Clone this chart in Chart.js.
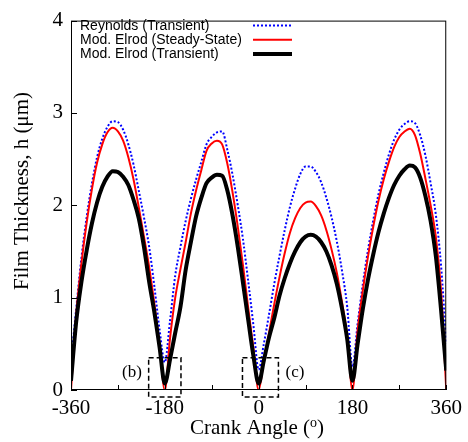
<!DOCTYPE html>
<html>
<head>
<meta charset="utf-8">
<script src="https://cdn.jsdelivr.net/npm/chart.js@4.4.1/dist/chart.umd.min.js"></script>
<style>
  html, body { margin: 0; padding: 0; background: #fff; }
  #chart { display: block; }
</style>
</head>
<body>
<canvas id="chart" width="468" height="442"></canvas>
<script>
// crank angle, degrees
var angles = [-360, -350, -340, -330, -320, -310, -300, -290, -280, -270, -260, -250, -240, -230, -220, -210, -200, -190,
  -180, -170, -160, -150, -140, -130, -120, -110, -100, -90, -80, -70, -60, -50, -40, -30, -20, -10,
  0, 10, 20, 30, 40, 50, 60, 70, 80, 90, 100, 110, 120, 130, 140, 150, 160, 170,
  180, 190, 200, 210, 220, 230, 240, 250, 260, 270, 280, 290, 300, 310, 320, 330, 340, 350, 360];

// film thickness, micrometres
var reynoldsTransient = [0.30, 0.88, 1.43, 1.87, 2.23, 2.52, 2.72, 2.85, 2.91, 2.90, 2.82, 2.66, 2.44, 2.16, 1.87, 1.55, 1.12, 0.65,
  0.30, 0.75, 1.24, 1.55, 1.83, 2.07, 2.28, 2.47, 2.66, 2.74, 2.79, 2.80, 2.60, 2.33, 2.00, 1.63, 1.18, 0.70,
  0.22, 0.50, 0.82, 1.15, 1.45, 1.73, 1.98, 2.18, 2.34, 2.42, 2.42, 2.36, 2.25, 2.08, 1.87, 1.61, 1.29, 0.90,
  0.25, 0.72, 1.15, 1.52, 1.84, 2.12, 2.35, 2.55, 2.71, 2.82, 2.88, 2.91, 2.89, 2.76, 2.54, 2.24, 1.90, 1.35, 0.50];

var elrodSteady = [0, 0.82, 1.37, 1.81, 2.17, 2.46, 2.66, 2.79, 2.84, 2.80, 2.70, 2.52, 2.28, 1.98, 1.66, 1.33, 0.93, 0.48,
  0, 0.56, 1.00, 1.31, 1.60, 1.91, 2.16, 2.38, 2.59, 2.67, 2.70, 2.66, 2.45, 2.14, 1.77, 1.35, 0.89, 0.45,
  0, 0.32, 0.62, 0.93, 1.22, 1.48, 1.70, 1.86, 1.97, 2.03, 2.04, 1.99, 1.89, 1.73, 1.52, 1.27, 0.95, 0.58,
  0, 0.65, 1.08, 1.45, 1.77, 2.05, 2.28, 2.47, 2.63, 2.74, 2.80, 2.83, 2.76, 2.56, 2.29, 2.00, 1.66, 1.08, 0];

var elrodTransient = [0.10, 0.74, 1.17, 1.51, 1.80, 2.03, 2.20, 2.31, 2.37, 2.36, 2.31, 2.22, 2.06, 1.86, 1.55, 1.17, 0.84, 0.46,
  0.07, 0.33, 0.62, 0.90, 1.30, 1.60, 1.88, 2.08, 2.24, 2.30, 2.33, 2.32, 2.16, 1.89, 1.55, 1.16, 0.76, 0.37,
  0.07, 0.32, 0.57, 0.78, 1.02, 1.21, 1.37, 1.50, 1.60, 1.66, 1.68, 1.66, 1.60, 1.50, 1.35, 1.15, 0.88, 0.55,
  0.10, 0.50, 0.88, 1.20, 1.47, 1.71, 1.91, 2.08, 2.22, 2.32, 2.39, 2.43, 2.41, 2.30, 2.10, 1.83, 1.45, 0.87, 0.21];

var seriesNames = ['Reynolds (Transient)', 'Mod. Elrod (Steady-State)', 'Mod. Elrod (Transient)'];
var xLabelled = [-360, -180, 0, 180, 360];

function points(vals) {
  return angles.map(function (a, i) { return { x: a, y: vals[i] }; });
}

var serif = '"Liberation Serif", "Times New Roman", serif';
var sans = '"Liberation Sans", Arial, sans-serif';

// frame, inward ticks, legend, titles and the (b)/(c) boxes
var decor = {
  id: 'decor',
  afterDraw: function (chart) {
    var ctx = chart.ctx, a = chart.chartArea;
    var xs = chart.scales.x, ys = chart.scales.y;
    ctx.save();
    ctx.strokeStyle = '#000';
    ctx.lineWidth = 1;
    ctx.strokeRect(a.left + 0.5, a.top + 0.5, a.right - a.left - 1, a.bottom - a.top - 1);

    ctx.beginPath();
    xs.ticks.forEach(function (t) {
      var px = Math.round(xs.getPixelForValue(t.value)) + 0.5;
      ctx.moveTo(px, a.bottom);
      ctx.lineTo(px, a.bottom - 5);
    });
    ys.ticks.forEach(function (t) {
      var py = Math.round(ys.getPixelForValue(t.value)) + 0.5;
      ctx.moveTo(a.left, py);
      ctx.lineTo(a.left + 6, py);
    });
    ctx.stroke();

    // zoom boxes
    ctx.setLineDash([5, 3]);
    ctx.lineWidth = 1.5;
    [[-211, -149], [-31, 38]].forEach(function (b) {
      var x0 = xs.getPixelForValue(b[0]), x1 = xs.getPixelForValue(b[1]);
      var y0 = ys.getPixelForValue(0.35), y1 = ys.getPixelForValue(-0.075);
      ctx.strokeRect(x0, y0, x1 - x0, y1 - y0);
    });
    ctx.setLineDash([]);
    ctx.fillStyle = '#000';
    ctx.font = '17px ' + serif;
    ctx.textAlign = 'center';
    ctx.textBaseline = 'middle';
    ctx.fillText('(b)', 132, 373);
    ctx.fillText('(c)', 295, 373);

    // legend
    var ds = chart.data.datasets;
    var order = [2, 1, 0];
    ctx.font = '14px ' + sans;
    ctx.textAlign = 'left';
    ctx.textBaseline = 'alphabetic';
    order.forEach(function (di, row) {
      var d = ds[di];
      var ly = 25.5 + row * 14.2;
      ctx.fillStyle = '#000';
      ctx.fillText(d.label, 80, ly + 4.5);
      ctx.strokeStyle = d.borderColor;
      ctx.lineWidth = d.borderWidth;
      ctx.setLineDash(d.borderDash || []);
      ctx.beginPath();
      ctx.moveTo(253, ly);
      ctx.lineTo(292, ly);
      ctx.stroke();
    });
    ctx.setLineDash([]);

    // axis titles
    ctx.fillStyle = '#000';
    ctx.font = '21px ' + serif;
    ctx.save();
    ctx.translate(28, 191);
    ctx.rotate(-Math.PI / 2);
    ctx.textAlign = 'center';
    ctx.fillText('Film Thickness, h (\u03bcm)', 0, 0);
    ctx.restore();

    var t1 = 'Crank Angle (', t2 = 'o', t3 = ')';
    ctx.font = '21px ' + serif;
    var w1 = ctx.measureText(t1).width, w3 = ctx.measureText(t3).width;
    ctx.font = '14px ' + serif;
    var w2 = ctx.measureText(t2).width;
    var sx = 257 - (w1 + w2 + w3) / 2;
    ctx.textAlign = 'left';
    ctx.font = '21px ' + serif;
    ctx.fillText(t1, sx, 434);
    ctx.font = '14px ' + serif;
    ctx.fillText(t2, sx + w1, 427);
    ctx.font = '21px ' + serif;
    ctx.fillText(t3, sx + w1 + w2, 434);
    ctx.restore();
  }
};

var common = { pointRadius: 0, fill: false, cubicInterpolationMode: 'monotone' };

new Chart(document.getElementById('chart'), {
  type: 'line',
  data: {
    datasets: [
      Object.assign({ label: seriesNames[2], data: points(elrodTransient), borderColor: '#000000', borderWidth: 4, order: 0 }, common),
      Object.assign({ label: seriesNames[1], data: points(elrodSteady), borderColor: '#ff0000', borderWidth: 2, order: 1 }, common),
      Object.assign({ label: seriesNames[0], data: points(reynoldsTransient), borderColor: '#0000ff', borderWidth: 2, borderDash: [2, 2], order: 2 }, common)
    ]
  },
  options: {
    responsive: false,
    animation: false,
    layout: { padding: { top: 14, right: 19, left: 0, bottom: 0 } },
    plugins: { legend: { display: false }, tooltip: { enabled: false } },
    scales: {
      x: {
        type: 'linear',
        min: -360,
        max: 360,
        grid: { display: false, drawTicks: false },
        border: { display: false },
        ticks: {
          stepSize: 90,
          autoSkip: false,
          maxRotation: 0,
          padding: 6,
          color: '#000',
          font: { family: serif, size: 21 },
          callback: function (v) { return xLabelled.indexOf(v) >= 0 ? String(v) : ''; }
        },
        afterFit: function (s) { s.height = 52; }
      },
      y: {
        min: 0,
        max: 4,
        grid: { display: false, drawTicks: false },
        border: { display: false },
        ticks: {
          stepSize: 1,
          padding: 8,
          color: '#000',
          font: { family: serif, size: 21 }
        },
        afterFit: function (s) { s.width = 71; }
      }
    }
  },
  plugins: [decor]
});
</script>
</body>
</html>
